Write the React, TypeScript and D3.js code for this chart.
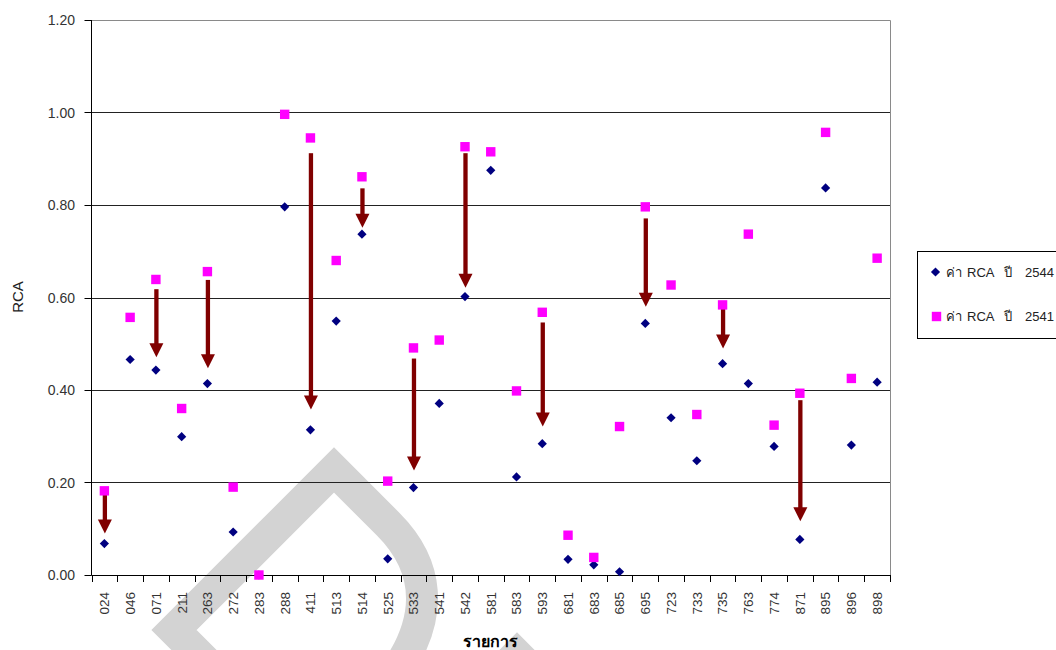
import { useEffect, useRef } from 'react';
import * as d3 from 'd3';

// product codes on the x axis
const categories = [
  '024', '046', '071', '211', '263', '272', '283', '288', '411', '513', '514',
  '525', '533', '541', '542', '581', '583', '593', '681', '683', '685', '695',
  '723', '733', '735', '763', '774', '871', '895', '896', '898',
];

// RCA values, year 2544 (diamonds)
const rca2544 = [
  0.068, 0.466, 0.443, 0.299, 0.414, 0.093, 0.0, 0.796, 0.314, 0.549, 0.737,
  0.035, 0.189, 0.371, 0.602, 0.875, 0.212, 0.284, 0.034, 0.022, 0.007, 0.544,
  0.34, 0.247, 0.457, 0.414, 0.278, 0.077, 0.837, 0.281, 0.417,
];

// RCA values, year 2541 (squares)
const rca2541 = [
  0.182, 0.557, 0.639, 0.36, 0.656, 0.19, 0.0, 0.996, 0.945, 0.68, 0.861,
  0.203, 0.491, 0.508, 0.926, 0.915, 0.398, 0.568, 0.086, 0.038, 0.321, 0.796,
  0.627, 0.347, 0.584, 0.737, 0.324, 0.393, 0.957, 0.425, 0.685,
];

// hand drawn arrows showing the decline
const arrowCats = ['024', '071', '263', '411', '514', '533', '542', '593', '695', '735', '871'];
const arrowFrom = [0.18, 0.618, 0.638, 0.912, 0.836, 0.468, 0.912, 0.546, 0.771, 0.577, 0.378];
const arrowTo = [0.09, 0.471, 0.447, 0.358, 0.751, 0.226, 0.621, 0.321, 0.58, 0.49, 0.116];

const yTicks = [0, 0.2, 0.4, 0.6, 0.8, 1.0, 1.2];

const FONT = "Arial, 'Liberation Sans', 'DejaVu Sans', sans-serif";

export default function App() {
  const svgRef = useRef<SVGSVGElement>(null);

  useEffect(() => {
    const svg = d3.select(svgRef.current);
    svg.selectAll('*').remove();

    const left = 91.5, right = 890, top = 20, bottom = 575;

    const x = d3.scaleBand<string>().domain(categories).range([left, right]).padding(0);
    const y = d3.scaleLinear().domain([0, 1.2]).range([bottom, top]);
    const cx = (c: string) => (x(c) as number) + x.bandwidth() / 2;
    const py = (v: number) => Math.round(y(v)) + 0.5;

    // watermark behind the chart
    const wm = svg.append('g')
      .attr('fill', 'none')
      .attr('stroke', '#d3d3d3')
      .attr('stroke-width', 32)
      .attr('stroke-linejoin', 'miter');
    wm.append('path').attr('d', 'M 214,670 L 174,630 L 334,470 L 388,524 C 430,566 432,615 400,665');
    wm.append('path').attr('d', 'M 462,710 L 517,655 L 572,710');

    // gridlines
    svg.append('g')
      .selectAll('line')
      .data(yTicks.filter(t => t > 0 && t < 1.2))
      .enter().append('line')
      .attr('x1', left).attr('x2', right)
      .attr('y1', d => py(d)).attr('y2', d => py(d))
      .attr('stroke', '#222')
      .attr('stroke-width', 1);

    // plot border (top + right)
    svg.append('path')
      .attr('d', `M${left},${py(1.2)} H${right + 0.5} V${bottom}`)
      .attr('fill', 'none')
      .attr('stroke', '#8a8a8a')
      .attr('stroke-width', 1);

    // y axis
    const yAxis = svg.append('g');
    yAxis.append('line')
      .attr('x1', left).attr('x2', left)
      .attr('y1', top).attr('y2', bottom + 0.5)
      .attr('stroke', '#000');
    yAxis.selectAll('line.tick')
      .data(yTicks)
      .enter().append('line')
      .attr('class', 'tick')
      .attr('x1', left - 7).attr('x2', left)
      .attr('y1', d => py(d)).attr('y2', d => py(d))
      .attr('stroke', '#000');
    yAxis.selectAll('text')
      .data(yTicks)
      .enter().append('text')
      .attr('x', 75)
      .attr('y', d => y(d))
      .attr('dy', '0.36em')
      .attr('text-anchor', 'end')
      .style('font-size', '14px')
      .style('fill', '#333')
      .text(d => d.toFixed(2));

    // x axis
    const xAxis = svg.append('g');
    xAxis.append('line')
      .attr('x1', left).attr('x2', right)
      .attr('y1', bottom + 0.5).attr('y2', bottom + 0.5)
      .attr('stroke', '#000');
    xAxis.selectAll('line.tick')
      .data([...categories.map(c => x(c) as number), right])
      .enter().append('line')
      .attr('class', 'tick')
      .attr('x1', d => Math.round(d) + 0.5).attr('x2', d => Math.round(d) + 0.5)
      .attr('y1', bottom).attr('y2', bottom + 7)
      .attr('stroke', '#000');
    xAxis.selectAll('text')
      .data(categories)
      .enter().append('text')
      .attr('transform', d => `translate(${cx(d)},592) rotate(-90)`)
      .attr('dy', '0.36em')
      .attr('text-anchor', 'end')
      .style('font-size', '13.5px')
      .style('fill', '#333')
      .text(d => d);

    // axis titles
    svg.append('text')
      .attr('transform', `translate(18,297) rotate(-90)`)
      .attr('dy', '0.36em')
      .attr('text-anchor', 'middle')
      .style('font-size', '15px')
      .style('fill', '#222')
      .text('RCA');
    svg.append('text')
      .attr('x', 490)
      .attr('y', 647)
      .attr('text-anchor', 'middle')
      .style('font-size', '16px')
      .style('font-weight', 'bold')
      .style('fill', '#000')
      .text('รายการ');

    // arrows
    const arrows = arrowCats.map((c, i) => ({ c, from: arrowFrom[i], to: arrowTo[i] }));
    const ag = svg.append('g').attr('fill', '#800000').attr('stroke', 'none');
    const headH = 14, headW = 14, shaftW = 4.3;
    ag.selectAll('rect')
      .data(arrows)
      .enter().append('rect')
      .attr('x', d => cx(d.c) - shaftW / 2 + 0.5)
      .attr('y', d => y(d.from))
      .attr('width', shaftW)
      .attr('height', d => y(d.to) - headH - y(d.from) + 1);
    ag.selectAll('path')
      .data(arrows)
      .enter().append('path')
      .attr('d', d => {
        const ax = cx(d.c) + 0.5, ay = y(d.to);
        return `M${ax - headW / 2},${ay - headH} L${ax + headW / 2},${ay - headH} L${ax},${ay} Z`;
      });

    // series
    const diamond = (s: number) => `M0,${-s} L${s},0 L0,${s} L${-s},0 Z`;
    svg.append('g')
      .selectAll('path')
      .data(categories.map((c, i) => ({ c, v: rca2544[i] })))
      .enter().append('path')
      .attr('transform', d => `translate(${cx(d.c)},${y(d.v)})`)
      .attr('d', diamond(4.6))
      .attr('fill', '#000080');

    const sq = 9.4;
    svg.append('g')
      .selectAll('rect')
      .data(categories.map((c, i) => ({ c, v: rca2541[i] })))
      .enter().append('rect')
      .attr('x', d => cx(d.c) - sq / 2)
      .attr('y', d => y(d.v) - sq / 2)
      .attr('width', sq)
      .attr('height', sq)
      .attr('fill', '#ff00ff');

    // legend
    const lg = svg.append('g');
    lg.append('rect')
      .attr('x', 917.5).attr('y', 251.5)
      .attr('width', 200).attr('height', 87)
      .attr('fill', '#fff')
      .attr('stroke', '#000');
    const items = [
      { label: '2544', y: 272, kind: 'diamond' },
      { label: '2541', y: 316.5, kind: 'square' },
    ];
    items.forEach(it => {
      if (it.kind === 'diamond') {
        lg.append('path')
          .attr('transform', `translate(935.5,${it.y})`)
          .attr('d', diamond(4.6))
          .attr('fill', '#000080');
      } else {
        lg.append('rect')
          .attr('x', 936.5 - sq / 2).attr('y', it.y - sq / 2)
          .attr('width', sq).attr('height', sq)
          .attr('fill', '#ff00ff');
      }
      const t = lg.append('text')
        .attr('y', it.y + 4.5)
        .style('font-size', '13px')
        .style('fill', '#222');
      t.append('tspan').attr('x', 946).text('ค่า');
      t.append('tspan').attr('x', 967).text('RCA');
      t.append('tspan').attr('x', 1004).text('ปี');
      t.append('tspan').attr('x', 1025).text(it.label);
    });
  }, []);

  return (
    <svg
      ref={svgRef}
      width={1056}
      height={650}
      style={{ position: 'absolute', left: 0, top: 0, fontFamily: FONT, background: '#fff' }}
    />
  );
}
